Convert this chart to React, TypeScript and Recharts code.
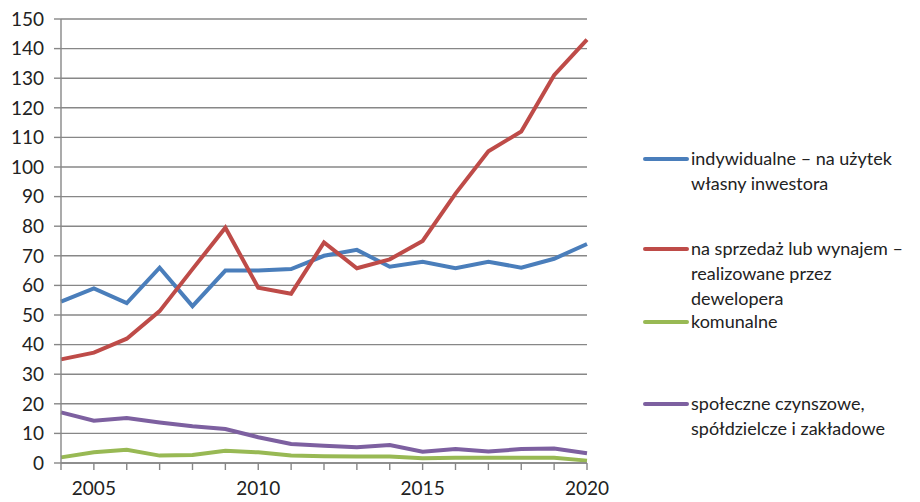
import { LineChart, Line, XAxis, YAxis, CartesianGrid } from 'recharts'

const years = [2004, 2005, 2006, 2007, 2008, 2009, 2010, 2011, 2012, 2013, 2014, 2015, 2016, 2017, 2018, 2019, 2020]
const indywidualne = [54.5, 59, 54, 66, 53, 65, 65, 65.5, 70, 72, 66.3, 68, 65.8, 68, 66, 69, 74]
const deweloper = [35, 37.3, 42, 51.3, 65.5, 79.5, 59.2, 57.2, 74.5, 65.8, 68.8, 75, 91, 105.3, 112, 131, 143]
const komunalne = [1.9, 3.6, 4.5, 2.5, 2.7, 4.1, 3.6, 2.5, 2.3, 2.2, 2.2, 1.6, 1.8, 1.8, 1.8, 1.8, 0.8]
const spoleczne = [17.1, 14.3, 15.2, 13.7, 12.4, 11.5, 8.7, 6.4, 5.8, 5.3, 6.1, 3.8, 4.7, 3.9, 4.7, 4.9, 3.3]
const yTicks = [0, 10, 20, 30, 40, 50, 60, 70, 80, 90, 100, 110, 120, 130, 140, 150]

const series = [
  { key: 'ind', values: indywidualne, color: '#4A7EBB', label: ['indywidualne – na użytek', 'własny inwestora'] },
  { key: 'dew', values: deweloper, color: '#BE4B48', label: ['na sprzedaż lub wynajem –', 'realizowane przez', 'dewelopera'] },
  { key: 'kom', values: komunalne, color: '#98B954', label: ['komunalne'] },
  { key: 'spo', values: spoleczne, color: '#7D60A0', label: ['społeczne czynszowe,', 'spółdzielcze i zakładowe'] },
]

const data = years.map((year, i) => {
  const row: Record<string, number> = { year }
  for (const s of series) row[s.key] = s.values[i]
  return row
})

const font = 'Lato, "Open Sans", sans-serif'
const legendTops = [0, 90, 163, 245]

function LegendBox() {
  return (
    <div style={{ position: 'absolute', left: 643, top: 146, width: 280, height: 300, fontFamily: font, fontSize: 18, color: '#222' }}>
      {series.map((s, i) => (
        <div key={s.key} style={{ position: 'absolute', left: 0, top: legendTops[i], display: 'flex' }}>
          <div style={{ width: 46, height: 4, background: s.color, marginTop: 11, borderRadius: 2 }} />
          <div style={{ lineHeight: '25px', marginLeft: 2, whiteSpace: 'nowrap' }}>
            {s.label.map((t) => <div key={t}>{t}</div>)}
          </div>
        </div>
      ))}
    </div>
  )
}

function YearTick(props: any) {
  const { x, y, payload } = props
  if (payload.value % 5 !== 0) return null
  return (
    <text x={x} y={y + 23} textAnchor="middle" fill="#222" fontFamily={font} fontSize={19}>
      {payload.value}
    </text>
  )
}

export default function App() {
  return (
    <div style={{ position: 'absolute', left: 0, top: 0, width: 920, height: 502, background: '#fff' }}>
      <LineChart width={920} height={502} data={data} margin={{ top: 19, right: 333, bottom: 0, left: 0 }}>
        <CartesianGrid vertical={false} stroke="#878787" strokeWidth={1.4} />
        <XAxis
          dataKey="year"
          type="number"
          domain={[2004, 2020]}
          ticks={years}
          interval={0}
          height={39}
          tickSize={7}
          stroke="#878787"
          strokeWidth={1.4}
          tick={<YearTick />}
        />
        <YAxis
          domain={[0, 150]}
          ticks={yTicks}
          interval={0}
          width={61}
          tickSize={7}
          tickMargin={10}
          stroke="#878787"
          strokeWidth={1.4}
          tick={{ fill: '#222', fontFamily: font, fontSize: 19 }}
        />
        {series.map((s) => (
          <Line
            key={s.key}
            type="linear"
            dataKey={s.key}
            stroke={s.color}
            strokeWidth={4}
            dot={false}
            isAnimationActive={false}
          />
        ))}
      </LineChart>
      <LegendBox />
    </div>
  )
}
